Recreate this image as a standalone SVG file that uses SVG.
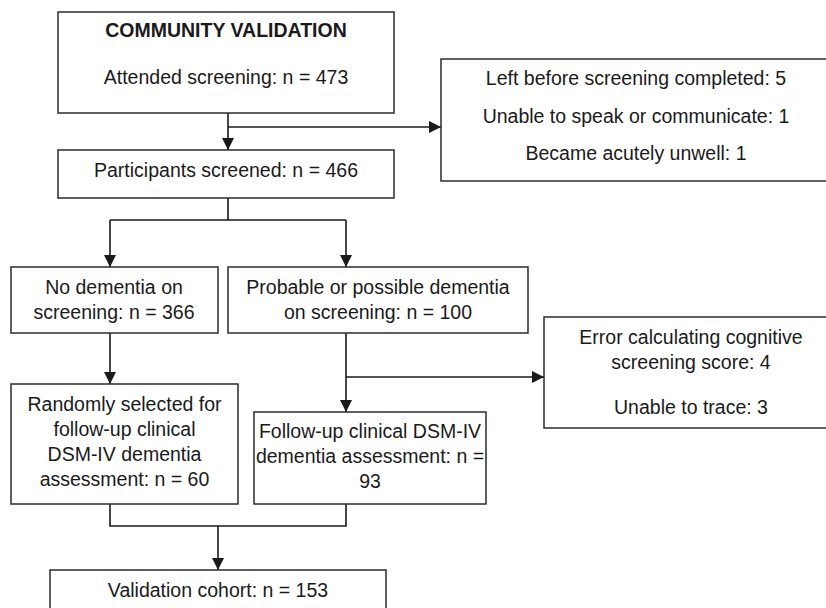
<svg xmlns="http://www.w3.org/2000/svg" width="826" height="608" viewBox="0 0 826 608">
<style>
.box{fill:#fff;stroke:#2b2b2b;stroke-width:1.5}
.t{font-family:"Liberation Sans",Arial,sans-serif;font-size:19.5px;fill:#1a1a1a;text-anchor:middle}
.b{font-weight:bold}
.c{fill:none;stroke:#1a1a1a;stroke-width:1.6}
</style>
<defs>
<marker id="ah" markerUnits="userSpaceOnUse" markerWidth="12" markerHeight="12" refX="12" refY="6" orient="auto">
<path d="M0,0 L12,6 L0,12 z" fill="#1a1a1a"/>
</marker>
</defs>
<rect width="826" height="608" fill="#fff"/>
<g id="connectors">
<path class="c" d="M228,113 V150" marker-end="url(#ah)"/>
<path class="c" d="M228,127 H441" marker-end="url(#ah)"/>
<path class="c" d="M228,198 V220 M110,220 H346"/>
<path class="c" d="M110,220 V267" marker-end="url(#ah)"/>
<path class="c" d="M346,220 V267" marker-end="url(#ah)"/>
<path class="c" d="M110,333 V384" marker-end="url(#ah)"/>
<path class="c" d="M346,333 V412" marker-end="url(#ah)"/>
<path class="c" d="M346,377 H544" marker-end="url(#ah)"/>
<path class="c" d="M110,504 V526 H346 V504"/>
<path class="c" d="M218,526 V570" marker-end="url(#ah)"/>
</g>
<g id="community">
<rect class="box" x="58" y="12" width="336" height="101"/>
<text class="t b" x="226" y="37">COMMUNITY VALIDATION</text>
<text class="t" x="226" y="84">Attended screening: n = 473</text>
</g>
<g id="excluded1">
<rect class="box" x="441" y="59" width="392" height="122"/>
<text class="t" x="636" y="85">Left before screening completed: 5</text>
<text class="t" x="636" y="122.5">Unable to speak or communicate: 1</text>
<text class="t" x="636" y="160">Became acutely unwell: 1</text>
</g>
<g id="screened">
<rect class="box" x="58" y="150" width="336" height="48"/>
<text class="t" x="226" y="176.5">Participants screened: n = 466</text>
</g>
<g id="nodementia">
<rect class="box" x="11" y="267" width="207" height="66"/>
<text class="t" x="114" y="294">No dementia on</text>
<text class="t" x="114" y="319">screening: n = 366</text>
</g>
<g id="probable">
<rect class="box" x="228" y="267" width="300" height="66"/>
<text class="t" x="378" y="294">Probable or possible dementia</text>
<text class="t" x="378" y="319">on screening: n = 100</text>
</g>
<g id="excluded2">
<rect class="box" x="544" y="317" width="294" height="111"/>
<text class="t" x="691" y="344">Error calculating cognitive</text>
<text class="t" x="691" y="369">screening score: 4</text>
<text class="t" x="691" y="414">Unable to trace: 3</text>
</g>
<g id="random">
<rect class="box" x="11" y="384" width="227" height="120"/>
<text class="t" x="124.5" y="411">Randomly selected for</text>
<text class="t" x="124.5" y="436">follow-up clinical</text>
<text class="t" x="124.5" y="461">DSM-IV dementia</text>
<text class="t" x="124.5" y="486">assessment: n = 60</text>
</g>
<g id="followup">
<rect class="box" x="254" y="412" width="232" height="92"/>
<text class="t" x="370" y="438">Follow-up clinical DSM-IV</text>
<text class="t" x="370" y="463">dementia assessment: n =</text>
<text class="t" x="370" y="488">93</text>
</g>
<g id="validation">
<rect class="box" x="50" y="570" width="336" height="50"/>
<text class="t" x="218" y="597">Validation cohort: n = 153</text>
</g>
</svg>
